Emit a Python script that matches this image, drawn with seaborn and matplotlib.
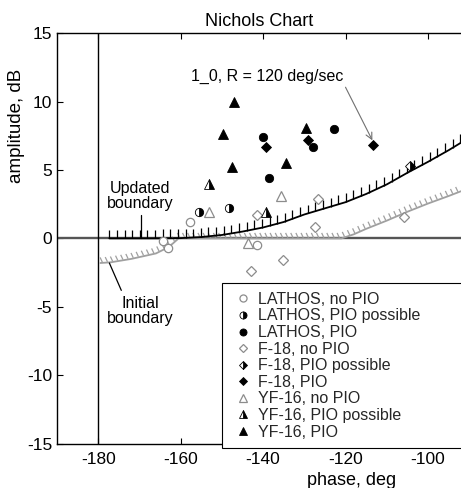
import numpy as np
import pandas as pd
import matplotlib
matplotlib.use("Agg")
import matplotlib.pyplot as plt
import seaborn as sns
from matplotlib.collections import LineCollection
from matplotlib.lines import Line2D

# ---------------- data ----------------
lathos_nopio_phase = [-157.8, -164.3, -163.1, -141.5]
lathos_nopio_amp = [1.2, -0.2, -0.7, -0.5]
lathos_poss_phase = [-155.5, -148.2]
lathos_poss_amp = [1.9, 2.2]
lathos_pio_phase = [-140.1, -127.8, -122.9, -138.6]
lathos_pio_amp = [7.4, 6.7, 8.0, 4.4]
f18_nopio_phase = [-141.4, -126.8, -127.5, -105.9, -135.1, -143.0]
f18_nopio_amp = [1.7, 2.9, 0.8, 1.6, -1.55, -2.35]
f18_poss_phase = [-104.3]
f18_poss_amp = [5.3]
f18_pio_phase = [-139.4, -129.2, -113.3]
f18_pio_amp = [6.7, 7.2, 6.8]
yf16_nopio_phase = [-153.2, -135.7, -143.7]
yf16_nopio_amp = [1.9, 3.1, -0.3]
yf16_poss_phase = [-153.2, -139.4]
yf16_poss_amp = [4.0, 1.9]
yf16_pio_phase = [-147.1, -149.8, -147.6, -129.5, -134.5]
yf16_pio_amp = [10.0, 7.6, 5.2, 8.1, 5.5]

# boundaries
updated_phase = [-177.3, -170, -165, -160, -155, -150, -145, -140, -135, -130,
                 -125, -120, -115, -110, -105, -100, -95, -92]
updated_amp = [0.0, 0.0, 0.0, 0.02, 0.1, 0.25, 0.5, 0.8, 1.2, 1.75,
               2.2, 2.65, 3.25, 3.95, 4.8, 5.6, 6.45, 7.0]
initial_phase = [-179.5, -177, -175, -172, -169, -166, -164, -162, -160.5,
                 -140, -121, -118, -115, -110, -105, -100, -95, -92]
initial_amp = [-1.8, -1.75, -1.65, -1.5, -1.3, -1.1, -0.8, -0.4, 0.0,
               0.0, 0.0, 0.3, 0.7, 1.3, 1.95, 2.55, 3.1, 3.45]

x_ticks = [-180, -160, -140, -120, -100]
y_ticks = [-15, -10, -5, 0, 5, 10, 15]

groups = [
    ("LATHOS, no PIO", lathos_nopio_phase, lathos_nopio_amp, "o", "none"),
    ("LATHOS, PIO possible", lathos_poss_phase, lathos_poss_amp, "o", "half"),
    ("LATHOS, PIO", lathos_pio_phase, lathos_pio_amp, "o", "full"),
    ("F-18, no PIO", f18_nopio_phase, f18_nopio_amp, "D", "none"),
    ("F-18, PIO possible", f18_poss_phase, f18_poss_amp, "D", "half"),
    ("F-18, PIO", f18_pio_phase, f18_pio_amp, "D", "full"),
    ("YF-16, no PIO", yf16_nopio_phase, yf16_nopio_amp, "^", "none"),
    ("YF-16, PIO possible", yf16_poss_phase, yf16_poss_amp, "^", "half"),
    ("YF-16, PIO", yf16_pio_phase, yf16_pio_amp, "^", "full"),
]

# ---------------- style ----------------
sns.set_theme(style="white")
plt.rcParams["font.family"] = ["Liberation Sans", "DejaVu Sans"]

fig = plt.figure(figsize=(4.61, 4.88), dpi=100)
ax = fig.add_axes([57 / 461, 1 - 443.5 / 488, 404 / 461, 410.2 / 488])

GRAY = "#8c8c8c"


def style_kw(marker, fill, legend=False):
    ms = {"o": 6.0, "D": 5.2, "^": 7.2}[marker]
    if legend:
        ms *= 0.85
    if fill == "none":
        return dict(marker=marker, markersize=ms, markerfacecolor="white",
                    markeredgecolor=GRAY, markeredgewidth=0.9)
    if fill == "half":
        return dict(marker=marker, markersize=ms, fillstyle="right",
                    markerfacecolor="black", markerfacecoloralt="white",
                    markeredgecolor="black", markeredgewidth=0.6)
    return dict(marker=marker, markersize=ms, markerfacecolor="black",
                markeredgecolor="black", markeredgewidth=0.6)


# reference lines
ax.axhline(0, color="#555555", lw=1.7, zorder=1)
ax.axvline(-180, color="black", lw=1.0, zorder=1)

# initial boundary (gray, slanted hatches)
ip = np.array(initial_phase)
ia = np.array(initial_amp)
ax.plot(ip, ia, color="#a0a0a0", lw=1.3, zorder=2)
hx = np.arange(-179.0, -92.0, 1.25)
hy = np.interp(hx, ip, ia)
segs = [[(x, y + 0.05), (x - 0.55, y + 0.4)] for x, y in zip(hx, hy)]
ax.add_collection(LineCollection(segs, colors="#a0a0a0", linewidths=0.9, zorder=2))

# updated boundary (black, vertical hatches)
up = np.array(updated_phase)
ua = np.array(updated_amp)
ax.plot(up, ua, color="black", lw=1.3, zorder=3)
tx = np.arange(-177.3, -92.0, 1.85)
ty = np.interp(tx, up, ua)
segs = [[(x, y), (x, y + 0.65)] for x, y in zip(tx, ty)]
ax.add_collection(LineCollection(segs, colors="black", linewidths=0.9, zorder=3))

# data markers drawn through seaborn
for label, ph, am, marker, fill in groups:
    df = pd.DataFrame({"phase": ph, "amp": am})
    sns.lineplot(data=df, x="phase", y="amp", ax=ax, estimator=None, sort=False,
                 linestyle="none", zorder=5, legend=False, **style_kw(marker, fill))

# labels near boundaries
ax.plot([-169.6, -169.6], [0, 1.7], color="black", lw=0.9, zorder=3)
ax.text(-169.8, 3.1, "Updated\nboundary", ha="center", va="center",
        fontsize=11.5, linespacing=1.0, color="black")
ax.plot([-177.3, -174.4], [-1.8, -3.8], color="black", lw=0.9, zorder=3)
ax.text(-169.8, -5.3, "Initial\nboundary", ha="center", va="center",
        fontsize=11.5, linespacing=1.0, color="black")

ax.annotate("1_0, R = 120 deg/sec", xy=(-113.5, 7.17), xytext=(-138.9, 11.85),
            ha="center", va="center", fontsize=11.5, color="black",
            arrowprops=dict(arrowstyle="->", color="#707070", lw=0.8,
                            shrinkA=0, shrinkB=0, relpos=(1.0, 0.0)))

# axes
ax.set_xlim(-190, -92)
ax.set_ylim(-15, 15)
ax.set_xticks(x_ticks)
ax.set_yticks(y_ticks)
ax.set_xticklabels([str(v) for v in x_ticks])
ax.set_yticklabels([str(v) for v in y_ticks])
ax.tick_params(axis="x", direction="in", length=4, width=0.8, top=True,
               bottom=True, labelsize=12.5, pad=6, colors="black")
ax.tick_params(axis="y", direction="in", length=4, width=0.8, left=True,
               right=False, labelsize=12.5, pad=3.5, colors="black")
for s in ["left", "top", "bottom"]:
    ax.spines[s].set_color("black")
    ax.spines[s].set_linewidth(1.0)
ax.spines["right"].set_visible(False)

ax.set_title("Nichols Chart", fontsize=13, pad=5, color="black")
ax.set_xlabel("phase, deg", fontsize=13, color="black")
ax.set_ylabel("amplitude, dB", fontsize=13.5, color="black")
ax.xaxis.set_label_coords(0.73, -0.07)
ax.yaxis.set_label_coords(-0.078, 0.775)

# legend
handles = [Line2D([], [], linestyle="none", **style_kw(m, f, legend=True))
           for _, _, _, m, f in groups]
labels = [g[0] for g in groups]
leg = ax.legend(handles, labels, loc="upper left",
                bbox_to_anchor=(0.408, 0.0, 0.62, 0.391), mode="expand",
                fontsize=11.5, frameon=True, fancybox=False, framealpha=1,
                edgecolor="black", borderaxespad=0, borderpad=0.55,
                labelspacing=0.1, handlelength=1.6, handletextpad=0.1)
leg.get_frame().set_linewidth(0.8)
leg.set_zorder(10)

fig.savefig("out.png", dpi=100)
